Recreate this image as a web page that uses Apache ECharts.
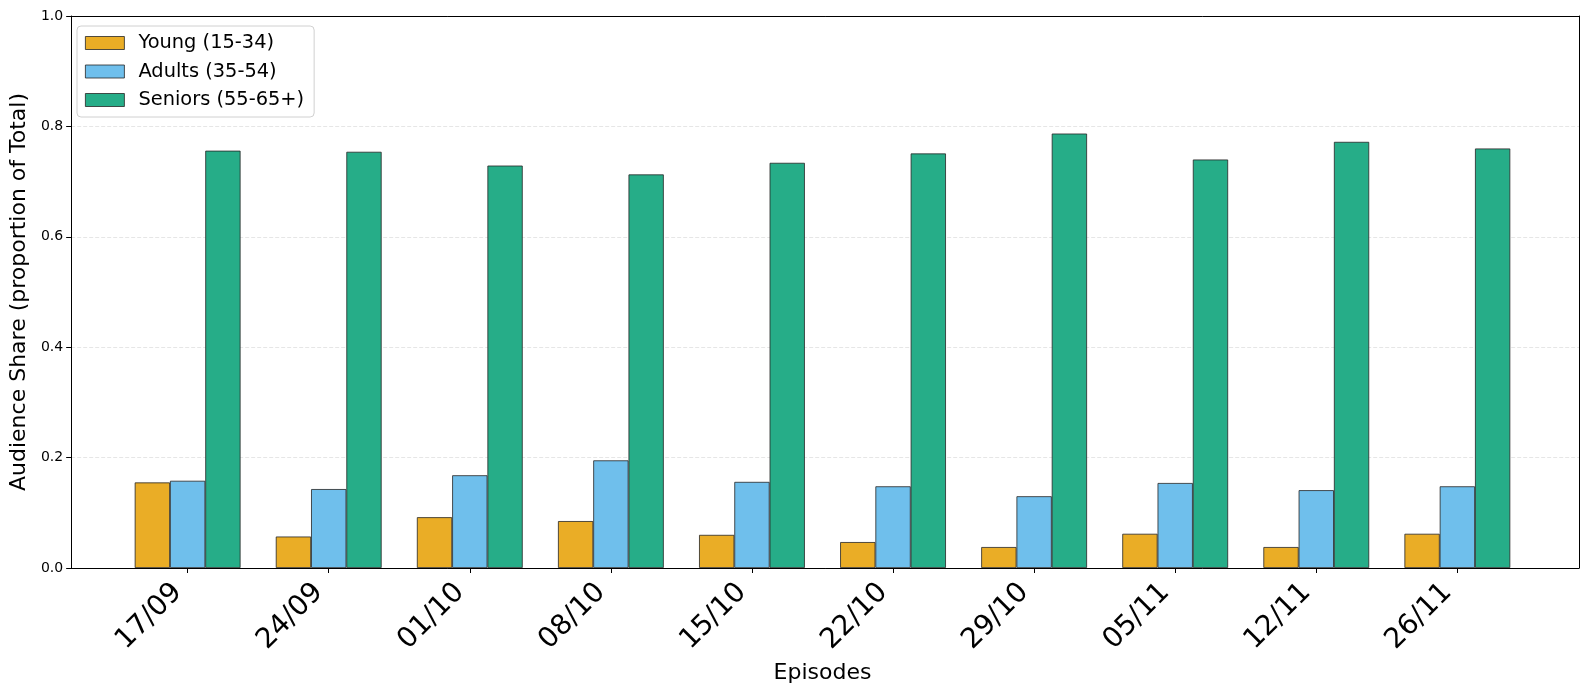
<!DOCTYPE html>
<html>
<head>
<meta charset="utf-8">
<script src="https://cdn.jsdelivr.net/npm/echarts@6/dist/echarts.min.js"></script>
<style>
    html, body { margin: 0; padding: 0; background: #fff; }
    #audienceChart { width: 1590px; height: 690px; }
</style>
</head>
<body>
<div id="audienceChart"></div>
<script>
/* ---------- data ---------- */

var episodes = ['17/09', '24/09', '01/10', '08/10', '15/10', '22/10', '29/10', '05/11', '12/11', '26/11'];
var youngShare = [0.155, 0.057, 0.092, 0.085, 0.060, 0.047, 0.038, 0.062, 0.038, 0.062];
var adultShare = [0.158, 0.143, 0.168, 0.195, 0.156, 0.148, 0.130, 0.154, 0.141, 0.148];
var seniorShare = [0.756, 0.754, 0.729, 0.713, 0.734, 0.751, 0.787, 0.740, 0.772, 0.760];
var yTicks = [0, 0.2, 0.4, 0.6, 0.8, 1.0];

var groupNames = ['Young (15-34)', 'Adults (35-54)', 'Seniors (55-65+)'];
var groupColors = ['#eaad26', '#6fbfec', '#26ad88'];

/* ---------- chart ---------- */

var audienceChart = echarts.init(document.getElementById('audienceChart'));
var font = 'DejaVu Sans';

function barSeries(idx, values) {
    return {
        name: groupNames[idx],
        type: 'bar',
        xAxisIndex: 1,
        yAxisIndex: 1,
        barWidth: '25%',
        barGap: '0%',
        itemStyle: {
            color: groupColors[idx],
            borderColor: '#262626',
            borderWidth: 0.8
        },
        data: values
    };
}

// plain line used for the frame edges
function frameAxis(pos) {
    return {
        gridIndex: 0,
        type: 'value',
        min: 0,
        max: 1,
        position: pos,
        axisLine: { show: true, onZero: false, lineStyle: { color: '#000', width: 1 } },
        axisTick: { show: false },
        axisLabel: { show: false },
        splitLine: { show: false }
    };
}

var option = {
    animation: false,
    textStyle: { fontFamily: font },
    legend: {
        orient: 'vertical',
        left: 77,
        top: 26,
        padding: [7, 10, 7, 8],
        icon: 'rect',
        itemWidth: 39,
        itemHeight: 13,
        itemGap: 8.5,
        backgroundColor: '#fff',
        borderColor: '#d0d0d0',
        borderWidth: 1,
        borderRadius: 4,
        itemStyle: { borderWidth: 0.8, borderColor: '#262626' },
        textStyle: {
            fontFamily: font,
            fontSize: 19.4,
            color: '#000',
            lineHeight: 20,
            padding: [0, 0, 0, 9]
        },
        data: groupNames
    },
    grid: [{
        // frame + y axis
        left: 66,
        right: 11,
        top: 16,
        bottom: 122,
        show: false,
        containLabel: false
    }, {
        // bars
        left: 117.1,
        right: 62.1,
        top: 16,
        bottom: 122,
        containLabel: false
    }],
    xAxis: [
        frameAxis('bottom'),
        {
            gridIndex: 1,
            type: 'category',
            data: episodes,
            boundaryGap: true,
            name: 'Episodes',
            nameLocation: 'middle',
            nameGap: 89,
            nameTextStyle: { fontFamily: font, fontSize: 22, color: '#000' },
            axisLine: { show: false },
            axisTick: { show: true, alignWithLabel: true, length: 5, lineStyle: { color: '#000', width: 1 } },
            axisLabel: {
                rotate: 45,
                interval: 0,
                margin: 10,
                padding: [0, 14, 0, 0],
                fontFamily: font,
                fontSize: 28,
                color: '#000'
            },
            splitLine: { show: false }
        },
        frameAxis('top')
    ],
    yAxis: [{
        gridIndex: 0,
        type: 'value',
        min: yTicks[0],
        max: yTicks[yTicks.length - 1],
        interval: 0.2,
        position: 'left',
        name: 'Audience Share (proportion of Total)',
        nameLocation: 'middle',
        nameGap: 37,
        nameTextStyle: { fontFamily: font, fontSize: 22, color: '#000' },
        axisLine: { show: true, onZero: false, lineStyle: { color: '#000', width: 1 } },
        axisTick: { show: true, length: 5, lineStyle: { color: '#000', width: 1 } },
        axisLabel: {
            margin: 8,
            fontFamily: font,
            fontSize: 14,
            color: '#000',
            formatter: function (v) { return v.toFixed(1); }
        },
        splitLine: {
            show: true,
            showMinLine: false,
            showMaxLine: false,
            lineStyle: { color: '#e6e6e6', width: 1, type: [4, 2] }
        }
    }, {
        gridIndex: 1,
        type: 'value',
        min: yTicks[0],
        max: yTicks[yTicks.length - 1],
        show: false,
        splitLine: { show: false }
    },
        frameAxis('right')
    ],
    series: [
        barSeries(0, youngShare),
        barSeries(1, adultShare),
        barSeries(2, seniorShare)
    ]
};

audienceChart.setOption(option);
</script>
</body>
</html>
